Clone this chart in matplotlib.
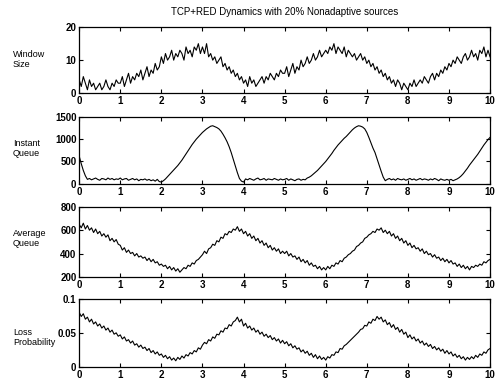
import numpy as np
import matplotlib.pyplot as plt

plt.rcParams['font.family'] = ['Liberation Sans', 'DejaVu Sans']

# samples every 0.05 s
dt = 0.05

window_size = [
    4, 2, 5, 3, 1, 4, 2, 3, 1, 2, 3, 1, 2, 4, 2, 1, 3, 2, 4, 3,
    3, 5, 2, 4, 6, 3, 5, 4, 6, 5, 7, 4, 6, 8, 5, 7, 6, 9, 7, 8,
    11, 9, 12, 10, 11, 13, 10, 12, 11, 13, 12, 10, 14, 12, 13, 11, 14, 13, 15, 12,
    14, 12, 15, 11, 12, 10, 11, 9, 10, 11, 8, 9, 7, 8, 6, 7, 5, 6, 4, 5,
    3, 4, 2, 5, 3, 4, 2, 3, 4, 5, 3, 5, 4, 6, 5, 4, 6, 5, 7, 6,
    6, 8, 5, 7, 9, 6, 8, 7, 10, 8, 9, 11, 9, 10, 12, 10, 11, 13, 11, 12,
    13, 12, 14, 13, 15, 12, 14, 13, 12, 14, 11, 13, 12, 11, 12, 10, 11, 12, 10, 11,
    9, 10, 8, 9, 7, 8, 6, 7, 5, 6, 4, 5, 3, 4, 2, 4, 3, 1, 3, 2,
    1, 3, 2, 4, 2, 3, 4, 3, 5, 4, 3, 5, 6, 4, 6, 5, 7, 6, 8, 7,
    9, 8, 10, 9, 11, 10, 9, 11, 12, 10, 11, 13, 11, 12, 10, 13, 12, 14, 11, 13,
    11,
]

instant_queue = [
    620, 450, 300, 180, 100, 120, 90, 110, 130, 100, 80, 120, 110, 90, 130, 100, 120, 90, 110, 100,
    130, 90, 110, 120, 80, 100, 120, 90, 110, 70, 100, 90, 110, 80, 100, 70, 90, 60, 100, 50,
    40, 70, 110, 160, 210, 260, 310, 360, 410, 470, 530, 600, 670, 740, 810, 880, 940, 1000, 1050, 1100,
    1150, 1190, 1230, 1260, 1290, 1300, 1280, 1260, 1230, 1180, 1110, 1030, 940, 830, 700, 550, 400, 250, 120, 60,
    40, 110, 90, 120, 100, 80, 110, 130, 90, 100, 120, 80, 110, 100, 90, 120, 100, 80, 110, 90,
    100, 120, 80, 110, 90, 70, 100, 110, 80, 100, 90, 130, 150, 180, 220, 260, 300, 350, 400, 450,
    500, 560, 620, 680, 750, 810, 870, 920, 970, 1020, 1060, 1110, 1160, 1210, 1250, 1280, 1300, 1290, 1270, 1230,
    1150, 1040, 920, 800, 700, 560, 420, 280, 150, 70, 100, 120, 90, 110, 80, 120, 100, 90, 110, 80,
    100, 120, 90, 110, 80, 100, 120, 90, 110, 100, 80, 110, 90, 120, 100, 70, 110, 90, 80, 100,
    80, 100, 70, 90, 110, 140, 180, 230, 290, 350, 420, 480, 540, 600, 660, 730, 800, 870, 930, 990,
    1040,
]

average_queue = [
    650, 620, 660, 610, 640, 600, 620, 580, 610, 570, 590, 550, 570, 540, 560, 510, 530, 500, 520, 480,
    470, 430, 450, 410, 430, 400, 410, 380, 400, 370, 380, 360, 370, 340, 360, 330, 350, 320, 330, 300,
    310, 290, 300, 270, 290, 260, 280, 250, 270, 240, 260, 280, 270, 300, 290, 320, 310, 340, 350, 370,
    390, 420, 400, 440, 450, 480, 470, 510, 500, 540, 530, 570, 560, 590, 580, 610, 600, 630, 590, 610,
    570, 590, 550, 570, 530, 550, 510, 530, 490, 510, 470, 490, 450, 470, 430, 450, 420, 440, 400, 420,
    400, 420, 380, 400, 370, 380, 350, 370, 330, 350, 320, 340, 300, 320, 290, 300, 270, 290, 260, 280,
    260, 290, 270, 300, 290, 320, 310, 340, 330, 360, 370, 390, 400, 420, 430, 460, 470, 490, 500, 530,
    540, 560, 570, 590, 580, 610, 600, 620, 580, 600, 570, 590, 550, 570, 530, 550, 510, 530, 490, 510,
    470, 490, 450, 470, 440, 450, 420, 440, 400, 420, 390, 400, 370, 390, 360, 370, 340, 360, 330, 350,
    320, 340, 310, 320, 290, 310, 280, 300, 270, 290, 260, 290, 280, 300, 290, 310, 300, 330, 320, 340,
    350,
]

loss_prob = [
    0.080, 0.074, 0.078, 0.070, 0.073, 0.066, 0.070, 0.063, 0.066, 0.060, 0.063, 0.057, 0.060, 0.054, 0.057, 0.051, 0.054, 0.048, 0.050, 0.045,
    0.047, 0.041, 0.044, 0.038, 0.040, 0.035, 0.038, 0.032, 0.034, 0.029, 0.032, 0.027, 0.029, 0.024, 0.027, 0.021, 0.024, 0.019, 0.022, 0.017,
    0.019, 0.014, 0.017, 0.012, 0.015, 0.010, 0.013, 0.009, 0.014, 0.011, 0.016, 0.013, 0.018, 0.016, 0.021, 0.019, 0.024, 0.022, 0.028, 0.026,
    0.032, 0.036, 0.034, 0.040, 0.038, 0.044, 0.042, 0.048, 0.047, 0.053, 0.051, 0.057, 0.056, 0.062, 0.060, 0.066, 0.068, 0.073, 0.066, 0.070,
    0.060, 0.064, 0.057, 0.060, 0.054, 0.057, 0.051, 0.054, 0.048, 0.051, 0.045, 0.048, 0.043, 0.046, 0.040, 0.043, 0.038, 0.041, 0.035, 0.039,
    0.034, 0.037, 0.031, 0.034, 0.028, 0.031, 0.026, 0.028, 0.022, 0.025, 0.020, 0.023, 0.017, 0.020, 0.014, 0.018, 0.012, 0.016, 0.011, 0.014,
    0.010, 0.015, 0.013, 0.018, 0.017, 0.022, 0.021, 0.027, 0.026, 0.031, 0.033, 0.036, 0.039, 0.042, 0.045, 0.048, 0.051, 0.055, 0.056, 0.061,
    0.060, 0.066, 0.064, 0.070, 0.068, 0.074, 0.070, 0.073, 0.066, 0.069, 0.062, 0.065, 0.058, 0.062, 0.055, 0.058, 0.051, 0.055, 0.048, 0.051,
    0.043, 0.047, 0.041, 0.044, 0.038, 0.041, 0.035, 0.038, 0.032, 0.035, 0.030, 0.033, 0.027, 0.030, 0.025, 0.028, 0.023, 0.026, 0.020, 0.024,
    0.019, 0.022, 0.016, 0.019, 0.014, 0.017, 0.012, 0.015, 0.010, 0.014, 0.011, 0.015, 0.012, 0.017, 0.014, 0.019, 0.017, 0.022, 0.020, 0.025,
    0.027,
]

t = np.arange(len(window_size)) * dt

panels = [
    ("Window\nSize", window_size, (0, 20), [0, 10, 20], ["0", "10", "20"]),
    ("Instant\nQueue", instant_queue, (0, 1500), [0, 500, 1000, 1500], ["0", "500", "1000", "1500"]),
    ("Average\nQueue", average_queue, (200, 800), [200, 400, 600, 800], ["200", "400", "600", "800"]),
    ("Loss\nProbability", loss_prob, (0, 0.1), [0, 0.05, 0.1], ["0", "0.05", "0.1"]),
]

# axes boxes in figure fractions [left, bottom, width, height]
boxes = [
    [0.160, 0.757, 0.830, 0.172],
    [0.160, 0.520, 0.830, 0.175],
    [0.160, 0.277, 0.830, 0.183],
    [0.160, 0.042, 0.830, 0.178],
]
label_y = [0.845, 0.612, 0.377, 0.118]

fig = plt.figure(figsize=(4.95, 3.83), dpi=100)

for (name, vals, ylim, yt, ytl), box, ly in zip(panels, boxes, label_y):
    ax = fig.add_axes(box)
    ax.plot(t, vals, color='black', linewidth=0.8)
    ax.set_xlim(0, 10)
    ax.set_ylim(*ylim)
    ax.set_xticks(range(11))
    ax.set_xticklabels([str(i) for i in range(11)], fontsize=7, fontweight='bold')
    ax.set_yticks(yt)
    ax.set_yticklabels(ytl, fontsize=7, fontweight='bold')
    ax.tick_params(direction='in', top=True, right=True, length=3, width=0.8, pad=2)
    for s in ax.spines.values():
        s.set_linewidth(0.9)
    fig.text(0.026, ly, name, fontsize=6.5, ha='left', va='center', linespacing=1.1)

fig.text(0.575, 0.968, "TCP+RED Dynamics with 20% Nonadaptive sources",
         fontsize=7, ha='center', va='center')

fig.savefig("out.png", dpi=100)
